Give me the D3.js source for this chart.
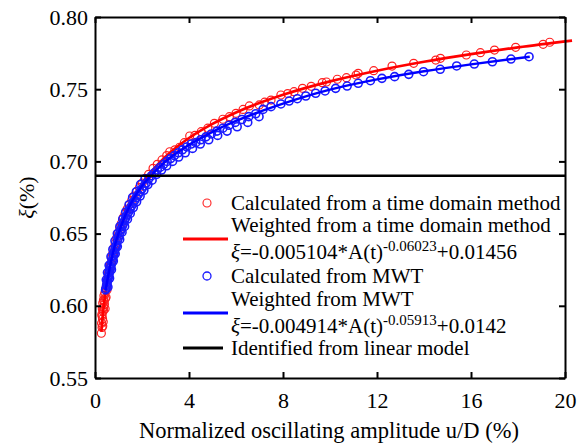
<!DOCTYPE html>
<html>
<head>
<meta charset="UTF-8">
<script src="https://d3js.org/d3.v7.min.js"></script>
<style>
  body { margin: 0; background: #fff; }
  text { font-family: "Liberation Serif", "Times New Roman", serif; fill: #000; }
</style>
</head>
<body>
<div class="canvas"></div>
<script>
  // calculated from time domain method (red circles)
  const redX = [0.27, 0.28, 0.29, 0.30, 0.31, 0.32, 0.33, 0.34, 0.35, 0.36, 0.37, 0.38, 0.40, 0.42, 0.44,
    0.46, 0.49, 0.52, 0.55, 0.58, 0.62, 0.66, 0.70, 0.75, 0.80, 0.86, 0.92, 0.98, 1.05, 1.12, 1.20, 1.28,
    1.37, 1.46, 1.56, 1.66, 1.77, 1.89, 2.01, 2.14, 2.28, 2.47, 2.65, 2.85, 3.05, 3.18, 3.40, 3.60, 3.80,
    4.03, 4.25, 4.52, 4.80, 5.08, 5.44, 5.72, 6.00, 6.30, 6.57, 6.99, 7.22, 7.49, 7.91, 8.20, 8.47, 8.83,
    9.20, 9.67, 9.85, 10.31, 10.70, 11.11, 11.20, 11.86, 12.64, 13.56, 14.50, 14.70, 15.80, 16.40, 17.00,
    17.90, 19.07, 19.35,
    0.30, 0.33, 0.36, 0.39, 0.43, 0.47, 0.51];
  const redY = [0.581, 0.588, 0.594, 0.585, 0.598, 0.591, 0.602, 0.596, 0.589, 0.604, 0.599, 0.607, 0.601, 0.609, 0.605,
    0.612, 0.614, 0.617, 0.620, 0.623, 0.627, 0.629, 0.633, 0.636, 0.640, 0.643, 0.647, 0.650, 0.654, 0.657, 0.661, 0.664,
    0.667, 0.670, 0.673, 0.676, 0.679, 0.682, 0.685, 0.688, 0.691, 0.6952, 0.698, 0.701, 0.704, 0.7067, 0.708, 0.7098, 0.713,
    0.7176, 0.718, 0.7206, 0.723, 0.7264, 0.7292, 0.731, 0.7333, 0.736, 0.7384, 0.7391, 0.741, 0.7425, 0.746, 0.747, 0.7483, 0.7506,
    0.752, 0.7545, 0.755, 0.7569, 0.758, 0.7598, 0.761, 0.7628, 0.766, 0.7679, 0.7702, 0.7714, 0.7737, 0.7753, 0.7771,
    0.7790, 0.7811, 0.7825,
    0.593, 0.586, 0.597, 0.603, 0.598, 0.606, 0.611];

  // weighted fit, time domain (red line)
  const redFitX = [0.27, 0.35, 0.45, 0.6, 0.8, 1.0, 1.3, 1.6, 2.0, 2.5, 3, 4, 5, 6, 8, 10, 12, 14, 16, 18, 20.3];
  const redFitY = [0.5821, 0.5964, 0.6099, 0.6250, 0.6398, 0.651, 0.6639, 0.6740, 0.6845, 0.6949, 0.7033, 0.7162,
    0.7260, 0.7339, 0.7461, 0.7554, 0.7628, 0.7690, 0.7743, 0.7790, 0.7837];

  // calculated from MWT (blue circles)
  const blueX = [0.45, 0.47, 0.49, 0.51, 0.53, 0.55, 0.57, 0.59, 0.61, 0.63, 0.65, 0.67, 0.70, 0.73, 0.76, 0.79,
    0.82, 0.85, 0.88, 0.91, 0.95, 0.99, 1.03, 1.07, 1.11, 1.16, 1.21, 1.26, 1.31, 1.37, 1.43, 1.49, 1.55, 1.62,
    1.69, 1.76, 1.84, 1.92, 2.00, 2.09, 2.18, 2.29, 2.40, 2.52, 2.65, 2.78, 2.92, 3.07, 3.22, 3.38, 3.55, 3.72,
    3.90, 4.09, 4.29, 4.50, 4.72, 4.95, 5.19, 5.44, 5.70, 5.97, 6.25, 6.54, 6.84, 7.15, 7.49, 7.91, 8.26, 8.61,
    8.97, 9.39, 9.79, 10.24, 10.73, 11.20, 11.72, 12.21, 12.75, 13.35, 13.98, 14.69, 15.39, 16.14, 16.91, 17.70, 18.47,
    0.55, 0.62, 0.70, 0.78, 0.86, 0.95, 1.05, 1.15, 1.26, 1.38, 1.50, 1.63, 1.77, 1.92, 2.08, 2.25, 2.43, 2.62,
    2.83, 3.05, 3.30, 3.56, 3.84, 4.15, 4.48, 4.84, 5.22, 5.62, 6.05, 6.50, 6.98,
    0.48, 0.53, 0.60, 0.68, 0.76, 0.85, 0.95, 1.06, 1.18, 1.31, 1.45, 1.60, 1.76, 1.94, 2.13];
  const blueY = [0.611, 0.612, 0.614, 0.615, 0.617, 0.618, 0.620, 0.621, 0.623, 0.624, 0.626, 0.627, 0.629, 0.631, 0.633, 0.635,
    0.637, 0.639, 0.641, 0.642, 0.645, 0.647, 0.649, 0.651, 0.653, 0.655, 0.657, 0.659, 0.661, 0.663, 0.665, 0.667, 0.669, 0.671,
    0.673, 0.675, 0.677, 0.679, 0.681, 0.683, 0.685, 0.688, 0.690, 0.692, 0.694, 0.696, 0.698, 0.700, 0.702, 0.704, 0.706, 0.708,
    0.710, 0.712, 0.713, 0.715, 0.717, 0.719, 0.721, 0.723, 0.725, 0.727, 0.729, 0.731, 0.733, 0.736, 0.7379, 0.7398, 0.7418, 0.7434,
    0.7453, 0.7472, 0.7488, 0.7506, 0.7522, 0.7541, 0.7559, 0.7575, 0.7587, 0.7603, 0.7621, 0.7638, 0.7661, 0.7674, 0.7690, 0.7709, 0.7725,
    0.613, 0.619, 0.625, 0.631, 0.636, 0.641, 0.646, 0.651, 0.655, 0.660, 0.664, 0.668, 0.672, 0.676, 0.680, 0.684, 0.687, 0.691,
    0.694, 0.697, 0.700, 0.703, 0.706, 0.709, 0.712, 0.715, 0.718, 0.721, 0.724, 0.727, 0.731,
    0.618, 0.623, 0.628, 0.634, 0.639, 0.645, 0.650, 0.655, 0.660, 0.665, 0.670, 0.675, 0.679, 0.684, 0.688];

  // weighted fit, MWT (blue line)
  const blueFitX = [0.45, 0.6, 0.8, 1.0, 1.3, 1.6, 2.0, 2.5, 3, 4, 5, 6, 8, 10, 12, 14, 16, 18.5];
  const blueFitY = [0.611, 0.624, 0.639, 0.650, 0.663, 0.673, 0.683, 0.692, 0.700, 0.7115, 0.7205, 0.7280, 0.7400,
    0.7497, 0.7568, 0.7624, 0.7672, 0.7725];

  const linearModel = 0.69;

  const xTicks = [0, 4, 8, 12, 16, 20];
  const yTicks = [0.55, 0.60, 0.65, 0.70, 0.75, 0.80];

  const W = 588, H = 448;
  const margin = {top: 17, right: 23, bottom: 70, left: 95};

  const svg = d3.select('.canvas').append('svg')
    .attr('width', W).attr('height', H)
    .style('background', '#fff');

  const x = d3.scaleLinear().domain([0, 20]).range([margin.left, W - margin.right]);
  const y = d3.scaleLinear().domain([0.55, 0.80]).range([H - margin.bottom, margin.top]);

  const zip = (xs, ys) => xs.map((v, i) => [v, ys[i]]);
  const line = d3.line().x(d => x(d[0])).y(d => y(d[1])).curve(d3.curveMonotoneX);

  // red circles
  svg.append('g').selectAll('circle')
    .data(zip(redX, redY)).enter().append('circle')
    .attr('cx', d => x(d[0])).attr('cy', d => y(d[1])).attr('r', 4)
    .attr('fill', 'none').attr('stroke', '#ff2020').attr('stroke-width', 1.2);

  svg.append('path').datum(zip(redFitX, redFitY))
    .attr('d', line).attr('fill', 'none').attr('stroke', '#ff0000').attr('stroke-width', 2.7);

  // blue circles
  svg.append('g').selectAll('circle')
    .data(zip(blueX, blueY)).enter().append('circle')
    .attr('cx', d => x(d[0])).attr('cy', d => y(d[1])).attr('r', 4)
    .attr('fill', 'none').attr('stroke', '#1a1aff').attr('stroke-width', 1.6);

  svg.append('path').datum(zip(blueFitX, blueFitY))
    .attr('d', line).attr('fill', 'none').attr('stroke', '#0000ff').attr('stroke-width', 2.5);

  // identified from linear model
  svg.append('line')
    .attr('x1', x(0)).attr('x2', x(20)).attr('y1', y(linearModel)).attr('y2', y(linearModel))
    .attr('stroke', '#000').attr('stroke-width', 2.5);

  // axes, ticks pointing inward, mirrored
  const axB = d3.axisBottom(x).tickValues(xTicks).tickSizeInner(-6).tickSizeOuter(0).tickPadding(14).tickFormat(d3.format('d'));
  const axT = d3.axisTop(x).tickValues(xTicks).tickSizeInner(-6).tickSizeOuter(0).tickFormat('');
  const axL = d3.axisLeft(y).tickValues(yTicks).tickSizeInner(-6).tickSizeOuter(0).tickPadding(7).tickFormat(d3.format('.2f'));
  const axR = d3.axisRight(y).tickValues(yTicks).tickSizeInner(-6).tickSizeOuter(0).tickFormat('');

  const gB = svg.append('g').attr('transform', `translate(0,${H - margin.bottom})`).call(axB);
  const gT = svg.append('g').attr('transform', `translate(0,${margin.top})`).call(axT);
  const gL = svg.append('g').attr('transform', `translate(${margin.left},0)`).call(axL);
  const gR = svg.append('g').attr('transform', `translate(${W - margin.right},0)`).call(axR);

  [gB, gT, gL, gR].forEach(g => {
    g.select('.domain').attr('stroke', '#000').attr('stroke-width', 2);
    g.selectAll('.tick line').attr('stroke', '#000').attr('stroke-width', 2);
    g.selectAll('.tick text').attr('font-family', '"Liberation Serif", serif').attr('font-size', 22).attr('fill', '#000');
  });

  // axis titles
  svg.append('text')
    .attr('x', 329).attr('y', 438)
    .attr('text-anchor', 'middle').attr('font-size', 22.5)
    .text('Normalized oscillating amplitude u/D (%)');

  const yl = svg.append('text')
    .attr('transform', `translate(34,${(y(0.55) + y(0.80)) / 2}) rotate(-90)`)
    .attr('text-anchor', 'middle').attr('font-size', 22);
  yl.append('tspan').attr('font-style', 'italic').text('ξ');
  yl.append('tspan').text('(%)');

  // legend
  const lg = svg.append('g');
  const tx = 231;
  const addText = (yy, str) => lg.append('text').attr('x', tx).attr('y', yy).attr('font-size', 21).text(str);
  const addFormula = (yy, coef, pw, c) => {
    const t = lg.append('text').attr('x', tx).attr('y', yy).attr('font-size', 21);
    t.append('tspan').attr('font-style', 'italic').text('ξ');
    t.append('tspan').text(`=${coef}*A(t)`);
    t.append('tspan').attr('dy', -8).attr('font-size', 15).text(pw);
    t.append('tspan').attr('dy', 8).text(c);
  };

  lg.append('circle').attr('cx', 207).attr('cy', 203).attr('r', 4)
    .attr('fill', 'none').attr('stroke', '#ff2020').attr('stroke-width', 1.1);
  addText(210, 'Calculated from a time domain method');
  addText(232, 'Weighted from a time domain method');
  lg.append('line').attr('x1', 183).attr('x2', 228).attr('y1', 239).attr('y2', 239)
    .attr('stroke', '#ff0000').attr('stroke-width', 3);
  addFormula(259, '-0.005104', '-0.06023', '+0.01456');

  lg.append('circle').attr('cx', 207).attr('cy', 276).attr('r', 4)
    .attr('fill', 'none').attr('stroke', '#1a1aff').attr('stroke-width', 1.3);
  addText(283, 'Calculated from MWT');
  addText(306, 'Weighted from MWT');
  lg.append('line').attr('x1', 183).attr('x2', 228).attr('y1', 313).attr('y2', 313)
    .attr('stroke', '#0000ff').attr('stroke-width', 3);
  addFormula(333, '-0.004914', '-0.05913', '+0.0142');

  lg.append('line').attr('x1', 183).attr('x2', 223).attr('y1', 348).attr('y2', 348)
    .attr('stroke', '#000').attr('stroke-width', 3);
  addText(355, 'Identified from linear model');
</script>
</body>
</html>
